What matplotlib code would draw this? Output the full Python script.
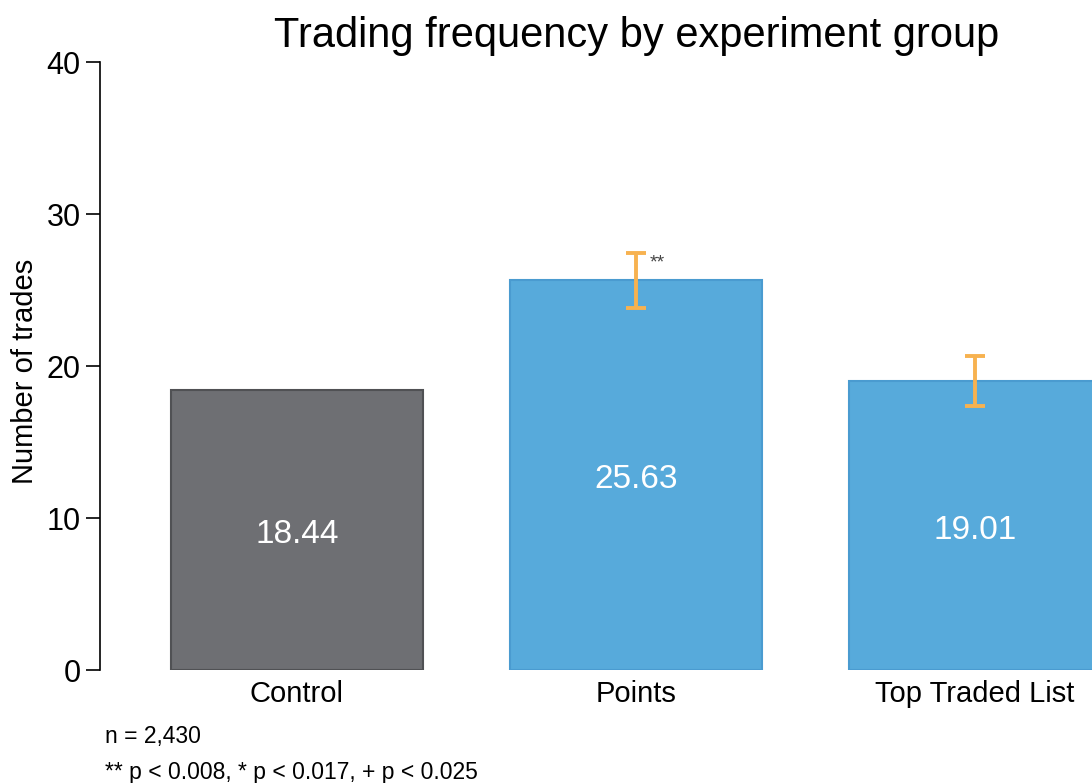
import matplotlib
matplotlib.use("Agg")
import matplotlib.pyplot as plt

plt.rcParams['font.family'] = ['Liberation Sans', 'DejaVu Sans']

categories = ["Control", "Points", "Top Traded List"]
values = [18.44, 25.63, 19.01]
err_low = [None, 23.82, 17.37]
err_high = [None, 27.45, 20.66]
sig_marks = ["", "**", ""]
yticks = [0, 10, 20, 30, 40]

face_colors = ["#6e6f73", "#57aadb", "#57aadb"]
edge_colors = ["#505154", "#4a9bd0", "#4a9bd0"]

W, H = 1092, 783
fig = plt.figure(figsize=(W / 100, H / 100), dpi=100)
# axes spans pixel x 100..1172 (extends beyond figure), y 62..670
left, right = 100 / W, 1172 / W
bottom, top = 1 - 670 / H, 1 - 62 / H
ax = fig.add_axes([left, bottom, right - left, top - bottom])

xs = list(range(len(categories)))
ax.bar(xs, values, width=0.746, color=face_colors, edgecolor=edge_colors, linewidth=1.5, zorder=2)

for x, v, lo, hi, s in zip(xs, values, err_low, err_high, sig_marks):
    ax.text(x, v / 2 - 0.3, f"{v:.2f}", color="white", fontsize=24, ha="center", va="center", zorder=4)
    if lo is not None:
        ax.errorbar([x], [v], yerr=[[v - lo], [hi - v]], fmt="none", ecolor="#f7b250",
                    elinewidth=2.8, capsize=7, capthick=2.8, zorder=3)
    if s:
        ax.text(x + 0.04, hi - 0.65, s, color="#444444", fontsize=14, ha="left", va="center", zorder=4)

ax.set_xlim(-0.581, 2.581)
ax.set_ylim(0, 40)
ax.set_yticks(yticks)
ax.set_yticklabels([str(t) for t in yticks], fontsize=22)
ax.set_xticks(xs)
ax.set_xticklabels(categories, fontsize=21)
ax.tick_params(axis="x", length=0, pad=7)
ax.tick_params(axis="y", length=10, width=1.2, pad=4, direction="out")
for sp in ["top", "right", "bottom"]:
    ax.spines[sp].set_visible(False)
ax.spines["left"].set_linewidth(1.2)

fig.text(25 / W, 1 - 371 / H, "Number of trades", fontsize=21, rotation=90,
         ha="center", va="center")
fig.text(637 / W, 1 - 36 / H, "Trading frequency by experiment group", fontsize=30,
         ha="center", va="center")
fig.text(105 / W, 1 - 736 / H, "n = 2,430", fontsize=16.5, ha="left", va="center")
fig.text(105 / W, 1 - 772 / H, "** p < 0.008, * p < 0.017, + p < 0.025", fontsize=16.5,
         ha="left", va="center")

fig.savefig("out.png", dpi=100)
